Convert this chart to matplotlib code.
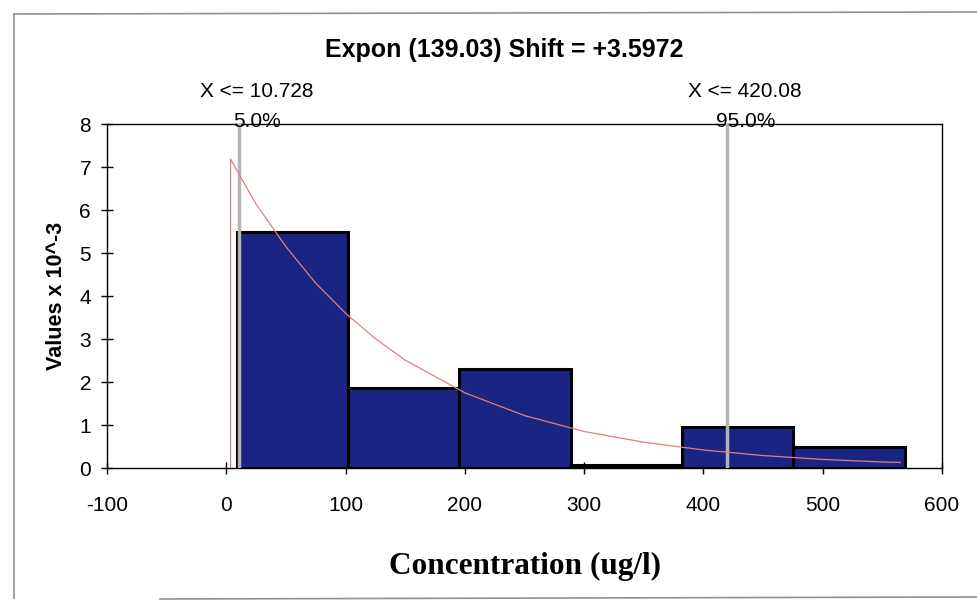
import matplotlib.pyplot as plt
from matplotlib.lines import Line2D

# histogram bins (ug/l) and density values (x 10^-3)
bin_edges = [8.7, 102.05, 195.4, 288.75, 382.1, 475.45, 568.8]
bin_heights = [5.48, 1.86, 2.31, 0.08, 0.95, 0.49]

# fitted Expon(139.03) shift +3.5972
curve_x = [3.6, 3.6, 10, 25, 50, 75, 100, 125, 150, 200, 250, 300, 350, 400, 450, 500, 550, 565]
curve_y = [0.0, 7.19, 6.87, 6.14, 5.15, 4.30, 3.60, 3.01, 2.51, 1.75, 1.22, 0.85, 0.60, 0.42, 0.29, 0.20, 0.14, 0.13]

# 5% / 95% markers
q_values = [10.728, 420.08]
q_top = ["X <= 10.728", "X <= 420.08"]
q_pct = ["5.0%", "95.0%"]

x_ticks = [-100, 0, 100, 200, 300, 400, 500, 600]
y_ticks = [0, 1, 2, 3, 4, 5, 6, 7, 8]

plt.rcParams['font.family'] = ['Liberation Sans', 'DejaVu Sans']
plt.rcParams['axes.unicode_minus'] = False

fig = plt.figure(figsize=(9.78, 6.09), dpi=100)
ax = fig.add_axes([0.1094, 0.2315, 0.8538, 0.5646])

widths = [bin_edges[i + 1] - bin_edges[i] for i in range(len(bin_heights))]
ax.bar(bin_edges[:-1], bin_heights, width=widths, align='edge',
       color='#1a2482', edgecolor='black', linewidth=2.2, zorder=2)

ax.plot(curve_x, curve_y, color='#e08080', linewidth=0.9, zorder=4)

for q in q_values:
    ax.plot([q, q], [0, 8], color='#b4b4b4', linewidth=2.5, zorder=3)

ax.set_xlim(-100, 600)
ax.set_ylim(0, 8)
ax.set_xticks(x_ticks)
ax.set_yticks(y_ticks)
ax.tick_params(axis='both', direction='inout', length=9, width=1, labelsize=15)
ax.tick_params(axis='x', pad=16)
ax.tick_params(axis='y', pad=7)
for s in ax.spines.values():
    s.set_linewidth(1.0)
    s.set_color('black')

ax.set_ylabel('Values x 10^-3', fontsize=15.5, fontweight='bold', labelpad=9)
ax.set_xlabel('Concentration (ug/l)', fontsize=22.5, fontweight='bold',
              family=['Liberation Serif', 'DejaVu Serif'], labelpad=26)

fig.text(0.516, 0.918, 'Expon (139.03) Shift = +3.5972', ha='center', va='center',
         fontsize=18, fontweight='bold')

for q, t1, t2 in zip(q_values, q_top, q_pct):
    ax.text(q + 15, 8.76, t1, ha='center', va='center', fontsize=15, zorder=5)
    ax.text(q + 15, 8.07, t2, ha='center', va='center', fontsize=15, zorder=5)

# outer chart frame
frame = dict(color='#909090', linewidth=1.2, transform=fig.transFigure)
fig.lines.append(Line2D([14 / 978, 14 / 978], [1 - 14 / 609, 1 - 598 / 609], **frame))
fig.lines.append(Line2D([14 / 978, 1], [1 - 14 / 609, 1 - 12 / 609], **frame))
fig.lines.append(Line2D([160 / 978, 1], [1 - 599 / 609, 1 - 597 / 609], **frame))

fig.savefig('out.png', dpi=100)
